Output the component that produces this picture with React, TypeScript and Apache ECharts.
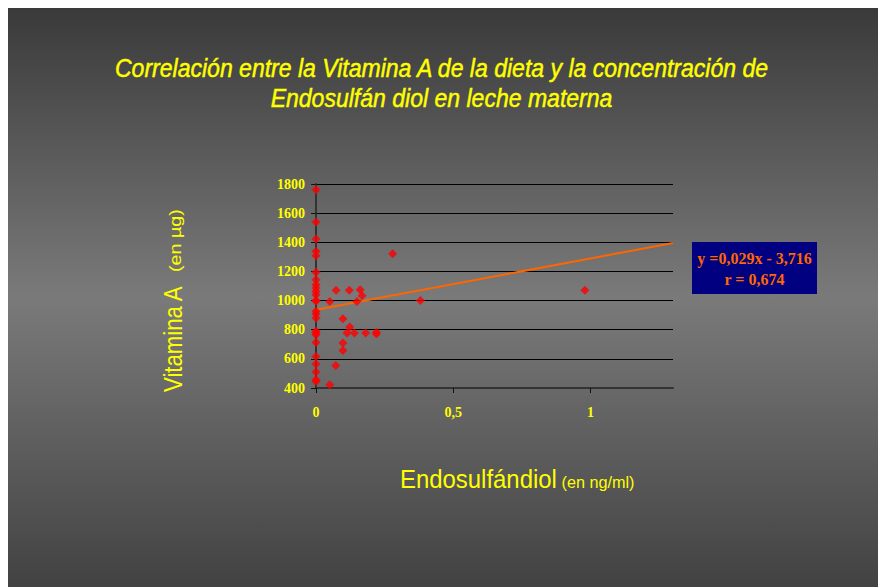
import React, { useEffect, useRef } from "react";
import * as echarts from "echarts";

const titleLines = [
  "Correlación entre la Vitamina A de la dieta y la concentración de",
  "Endosulfán diol en leche materna",
];
const yAxisTitle = "Vitamina A";
const yAxisUnit = "(en µg)";
const xAxisTitle = "Endosulfándiol";
const xAxisUnit = "(en ng/ml)";
const equationLines = ["y =0,029x - 3,716", "r = 0,674"];

// scatter points: [Endosulfándiol, Vitamina A]
const zeroColumnValues = [
  1761, 1539, 1423, 1338, 1308, 1194, 1143, 1109, 1086, 1063, 1040, 1000, 995,
  926, 908, 880, 789, 777, 766, 713, 617, 565, 510, 457, 445,
];
const otherX = [
  0.05, 0.073, 0.121, 0.161, 0.168, 0.149, 0.098, 0.123, 0.113, 0.14, 0.181,
  0.22, 0.22, 0.098, 0.098, 0.072, 0.05, 0.279, 0.38, 0.979,
];
const otherY = [
  994, 1070, 1070, 1075, 1033, 994, 876, 818, 777, 777, 777, 782, 770, 709,
  658, 555, 422, 1322, 1000, 1070,
];
const trendLine = [
  [0, 937],
  [1.3, 1395],
];
const xTicks = { min: 0, max: 1.3, interval: 0.5 };
const yTicks = { min: 400, max: 1800, interval: 200 };

function measure(text: string, font: string): number {
  const c = document.createElement("canvas").getContext("2d");
  if (!c) return text.length * 10;
  c.font = font;
  return c.measureText(text).width;
}

export default function App() {
  const ref = useRef<HTMLDivElement>(null);
  useEffect(() => {
    if (!ref.current) return;
    const chart = echarts.init(ref.current, null, { renderer: "svg" });
    const points: number[][] = [
      ...zeroColumnValues.map((v) => [0, v]),
      ...otherX.map((x, i) => [x, otherY[i]]),
    ];
    const yellow = "#FFFF00";
    const sans = "Liberation Sans";
    const titleSize = 26;
    const titleScale =
      655 / measure(titleLines[0], `italic ${titleSize}px '${sans}'`);
    const fit = (text: string, size: number, target: number) =>
      target / measure(text, `${size}px '${sans}'`);

    const titleText = (text: string, y: number) => ({
      type: "text",
      x: 433.5,
      y,
      scaleX: titleScale,
      style: {
        text,
        align: "center",
        verticalAlign: "middle",
        fill: yellow,
        stroke: yellow,
        lineWidth: 0.5,
        fontFamily: sans,
        fontStyle: "italic",
        fontSize: titleSize,
      },
    });
    const axisText = (
      text: string,
      size: number,
      target: number,
      x: number,
      y: number,
      rotation: number
    ) => ({
      type: "text",
      x,
      y,
      rotation,
      scaleX: fit(text, size, target),
      style: {
        text,
        align: "left",
        verticalAlign: "middle",
        fill: yellow,
        fontFamily: sans,
        fontSize: size,
      },
    });

    chart.setOption({
      animation: false,
      backgroundColor: new echarts.graphic.LinearGradient(0, 0, 0, 1, [
        { offset: 0, color: "#3a3a3a" },
        { offset: 0.5, color: "#7a7a7a" },
        { offset: 1, color: "#424242" },
      ]),
      grid: { left: 308, right: 205, top: 176, bottom: 199 },
      xAxis: {
        type: "value",
        min: xTicks.min,
        max: xTicks.max,
        interval: xTicks.interval,
        axisLine: { show: true, onZero: false, lineStyle: { color: "#333", width: 2 } },
        axisTick: { show: true, length: 5, lineStyle: { color: "#111" } },
        splitLine: { show: false },
        axisLabel: {
          showMaxLabel: false,
          color: yellow,
          fontFamily: "Liberation Serif",
          fontWeight: "bold",
          fontSize: 14,
          margin: 17,
          formatter: (v: number) => String(v).replace(".", ","),
        },
      },
      yAxis: {
        type: "value",
        min: yTicks.min,
        max: yTicks.max,
        interval: yTicks.interval,
        axisLine: { show: true, onZero: false, lineStyle: { color: "#333", width: 2 } },
        axisTick: { show: true, length: 5, lineStyle: { color: "#111" } },
        splitLine: { show: true, lineStyle: { color: "#000", width: 1 } },
        axisLabel: {
          color: yellow,
          fontFamily: "Liberation Serif",
          fontWeight: "bold",
          fontSize: 14,
          margin: 11,
          formatter: (v: number) => String(v),
        },
      },
      series: [
        {
          type: "line",
          data: trendLine,
          symbol: "none",
          lineStyle: { color: "#FF6600", width: 2 },
          z: 2,
        },
        {
          type: "scatter",
          data: points,
          symbol: "diamond",
          symbolSize: 9,
          itemStyle: { color: "#FF0000" },
          z: 3,
        },
      ],
      graphic: [
        titleText(titleLines[0], 60.5),
        titleText(titleLines[1], 90),
        axisText(yAxisTitle, 26, 107, 164.5, 384, Math.PI / 2),
        axisText(yAxisUnit, 17, 63, 167, 264, Math.PI / 2),
        axisText(xAxisTitle, 25, 157, 392, 471.5, 0),
        axisText(xAxisUnit, 16, 73, 553.5, 474.5, 0),
        {
          type: "rect",
          shape: { x: 684, y: 234, width: 125, height: 52 },
          style: { fill: "#000080" },
        },
        {
          type: "text",
          x: 746.5,
          y: 260.5,
          style: {
            text: equationLines.join("\n"),
            align: "center",
            verticalAlign: "middle",
            fill: "#FF6600",
            fontFamily: "Liberation Serif",
            fontWeight: "bold",
            fontSize: 16,
            lineHeight: 21,
          },
        },
      ],
    });
    return () => chart.dispose();
  }, []);
  return (
    <div
      ref={ref}
      style={{ position: "fixed", left: 8, top: 8, width: 870, height: 579 }}
    />
  );
}
